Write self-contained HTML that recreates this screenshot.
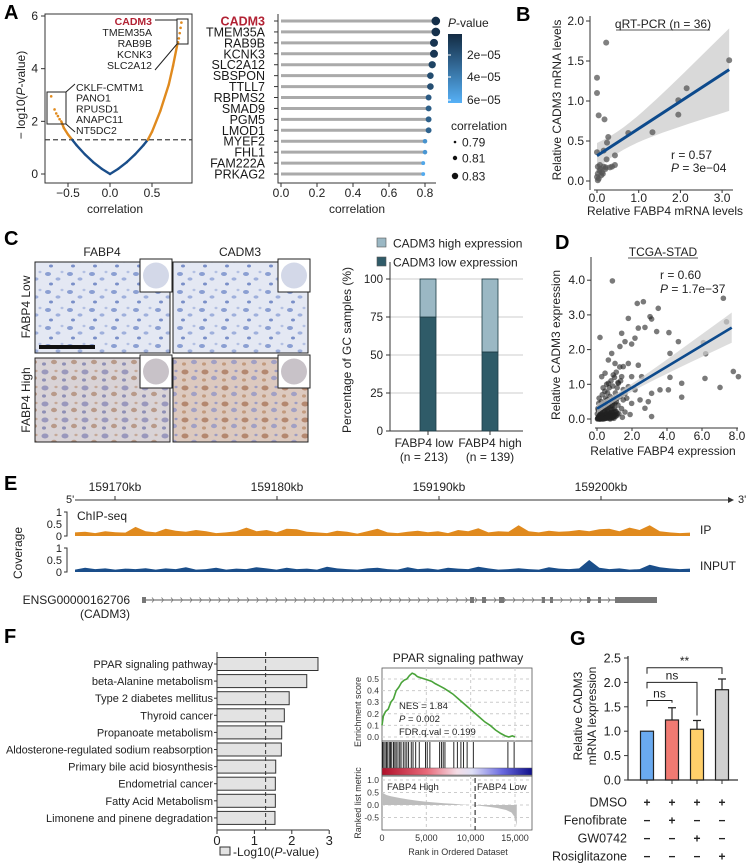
<!DOCTYPE html>
<html><head><meta charset="utf-8"><style>
html,body{margin:0;padding:0;background:#fff}
svg{display:block;font-family:"Liberation Sans",Arial,sans-serif}
</style></head><body>
<svg id="fig" width="750" height="863" viewBox="0 0 750 863" xmlns="http://www.w3.org/2000/svg">
<defs>
<linearGradient id="pgrad" x1="0" y1="0" x2="0" y2="1"><stop offset="0" stop-color="#132b43"/><stop offset="1" stop-color="#56b1f7"/></linearGradient>
<linearGradient id="rbgrad" x1="0" y1="0" x2="1" y2="0"><stop offset="0" stop-color="#b0102a"/><stop offset="0.3" stop-color="#e86a7a"/><stop offset="0.5" stop-color="#f4dde6"/><stop offset="0.6" stop-color="#dfe0f6"/><stop offset="0.8" stop-color="#6a6ae0"/><stop offset="1" stop-color="#10108a"/></linearGradient>
<pattern id="tisLow" width="22" height="18" patternUnits="userSpaceOnUse"><rect width="22" height="18" fill="#e4e8f3"/><ellipse cx="4" cy="4" rx="3" ry="2" fill="#8b9fd2"/><ellipse cx="14" cy="9" rx="2.5" ry="1.6" fill="#9fb0dc"/><ellipse cx="7" cy="14" rx="2" ry="1.5" fill="#7a8fc8"/><ellipse cx="18" cy="2" rx="1.5" ry="1.2" fill="#b3c0e2"/></pattern>
<pattern id="tisHigh" width="20" height="16" patternUnits="userSpaceOnUse"><rect width="20" height="16" fill="#d9d3d6"/><ellipse cx="5" cy="4" rx="3.5" ry="2.5" fill="#9a98bc"/><ellipse cx="14" cy="10" rx="3" ry="2.2" fill="#b89a8a"/><ellipse cx="4" cy="12" rx="2" ry="1.6" fill="#8e8fb5"/><ellipse cx="16" cy="3" rx="1.6" ry="1.2" fill="#c4a898"/></pattern>
<pattern id="tisHigh2" width="20" height="16" patternUnits="userSpaceOnUse"><rect width="20" height="16" fill="#dcc9bf"/><ellipse cx="5" cy="4" rx="3.5" ry="2.5" fill="#b48870"/><ellipse cx="14" cy="10" rx="3" ry="2.2" fill="#a2a0c4"/><ellipse cx="4" cy="12" rx="2" ry="1.6" fill="#c29a7e"/><ellipse cx="16" cy="3" rx="1.6" ry="1.2" fill="#9c9cc2"/></pattern>
</defs>

<text x="4" y="19" font-size="20" font-weight="bold">A</text>
<text x="516" y="21" font-size="20" font-weight="bold">B</text>
<text x="4" y="245" font-size="20" font-weight="bold">C</text>
<text x="555" y="249" font-size="20" font-weight="bold">D</text>
<text x="4" y="490" font-size="20" font-weight="bold">E</text>
<text x="4" y="643" font-size="20" font-weight="bold">F</text>
<text x="570" y="645" font-size="20" font-weight="bold">G</text>

<g id="gA"></g>
<g id="gB"></g>
<g id="gC"></g>
<g id="gD"></g>
<g id="gE"></g>
<g id="gF"></g>
<g id="gG"></g>
</svg>
<script>
// ---------- DATA ----------
const aCorr = [-0.58,-0.55,-0.5,-0.45,-0.4,-0.3,-0.2,-0.1,0,0.1,0.2,0.3,0.4,0.45,0.5,0.6,0.7,0.75,0.8];
const aLogP = [2.0,1.75,1.5,1.3,1.1,0.75,0.45,0.2,0,0.2,0.45,0.75,1.1,1.3,1.6,2.4,3.4,4.1,4.9];
const aDotCorr = [-0.7,-0.66,-0.64,-0.62,-0.6,0.81,0.82,0.83,0.84,0.85];
const aDotLogP = [2.95,2.45,2.3,2.2,2.08,5.0,5.15,5.35,5.55,5.75];
const lolGenes = ["CADM3","TMEM35A","RAB9B","KCNK3","SLC2A12","SBSPON","TTLL7","RBPMS2","SMAD9","PGM5","LMOD1","MYEF2","FHL1","FAM222A","PRKAG2"];
const lolCorr = [0.86,0.86,0.85,0.85,0.84,0.83,0.83,0.82,0.82,0.82,0.82,0.80,0.80,0.79,0.79];
const lolP = [0.2e-5,0.3e-5,0.5e-5,0.6e-5,1.2e-5,1.6e-5,1.7e-5,2.3e-5,2.5e-5,2.6e-5,2.7e-5,5.0e-5,5.2e-5,6.0e-5,6.2e-5];
const bX = [0,0,0.04,0.22,0.18,0,0.27,0.24,0.16,0.43,0.43,0.31,0.21,0.23,0.75,1.33,1.95,1.95,2.15,3.17,0.02,0.06,0.02,0,0.04,0.08,0.12,0.16,0.1,0.2,0.02,0.07,0.14,0.36];
const bY = [1.29,1.1,0.82,1.73,0.77,0.36,0.55,0.48,0.38,0.32,0.2,0.17,0.17,0.27,0.6,0.61,0.83,1.01,1.16,1.51,0.18,0.13,0.09,0.05,0.03,0.15,0.11,0.18,0.07,0.15,0.01,0.2,0.09,0.18];
const cGroups = ["FABP4 low","FABP4 high"];
const cN = ["(n = 213)","(n = 139)"];
const cLowPct = [75,52];
const cHighPct = [25,48];
const dX = [0.88,2.3,2.65,3.5,3.03,3.12,1.79,7.22,7.4,0.17,2.36,2.74,3.41,4.11,4.65,6.08,6.21,4.17,7.79,8.08,7.03,6.17,4.84,4.17,4.08,4.84,3.6,3.12,2.93,1.89,3.12,2.74,1.5,0.84,1.31,1.6,1.98,1.41,2.17,0.65,0.46,1.03,1.5,1.79,2.36,2.55,1.98,1.79,2.17,2.46,1.98,1.6,1.22,0.65,0.27,0.93,1.41,
0.05,0.1,0.15,0.2,0.25,0.3,0.35,0.4,0.45,0.5,0.55,0.6,0.65,0.7,0.75,0.8,0.85,0.9,0.95,1.0,1.05,1.1,1.15,1.2,1.3,1.35,1.4,1.5,1.6,1.7,0.05,0.1,0.12,0.2,0.25,0.3,0.35,0.4,0.45,0.5,0.55,0.6,0.7,0.75,0.8,0.9,1.0,1.1,1.2,1.3,0.02,0.08,0.18,0.28,0.38,0.48,0.58,0.68,0.78,0.88,0.98,1.08,1.25,1.45,0.15,0.3,0.45,0.6,0.75,0.9,1.15,1.4,0.22,0.42,0.62,0.82,1.02,0.12,0.32,0.52,0.07,0.17,0.27,0.37,0.57,0.67,0.87,0.97,
0.03,0.06,0.09,0.13,0.16,0.19,0.23,0.26,0.29,0.33,0.36,0.39,0.43,0.46,0.49,0.53,0.56,0.59,0.63,0.66,0.69,0.73,0.76,0.79,0.83,0.86,0.89,0.93,0.96,0.99,1.03,1.06,1.09,1.13,1.16,0.04,0.14,0.24,0.34,0.44,0.54,0.64,0.74,0.84,0.94];
const dY = [3.98,3.33,3.38,3.19,2.95,2.88,2.9,3.48,2.8,2.35,2.62,2.64,2.52,2.49,2.23,2.2,1.88,1.89,1.37,1.22,0.91,1.17,1.03,1.2,0.84,0.63,0.84,0.74,0.5,0.13,0.07,0.31,0.55,1.89,2.09,2.23,2.16,2.47,2.33,1.7,1.32,1.6,1.51,1.6,1.55,1.22,1.22,0.93,0.84,0.55,0.45,0.74,1.03,1.03,1.22,1.27,1.22,
0.02,0.05,0.1,0.0,0.08,0.15,0.05,0.2,0.1,0.3,0.15,0.25,0.4,0.1,0.35,0.5,0.2,0.45,0.6,0.3,0.75,0.5,0.9,0.4,0.65,1.1,0.3,0.85,0.2,0.6,0.3,0.45,0.6,0.35,0.5,0.7,0.9,0.45,0.8,0.6,1.0,0.75,0.9,0.65,1.1,0.95,1.2,1.35,1.05,1.5,0.15,0.25,0.2,0.3,0.35,0.45,0.55,0.2,0.15,0.05,0.1,0.2,0.15,0.05,0.0,0.0,0.02,0.05,0.0,0.3,0.6,0.7,0.12,0.25,0.35,0.28,0.45,0.08,0.18,0.08,0.05,0.12,0.03,0.1,0.22,0.12,0.4,0.02,
0.0,0.02,0.05,0.01,0.03,0.08,0.02,0.06,0.1,0.04,0.0,0.07,0.12,0.03,0.09,0.05,0.14,0.02,0.1,0.06,0.16,0.04,0.12,0.08,0.18,0.03,0.1,0.15,0.06,0.2,0.12,0.08,0.22,0.1,0.15,0.01,0.0,0.02,0.04,0.01,0.03,0.06,0.02,0.05,0.08];
const eTicks = ["159170kb","159180kb","159190kb","159200kb"];
const eIP = [0.15,0.18,0.12,0.2,0.16,0.14,0.38,0.2,0.15,0.3,0.22,0.18,0.25,0.2,0.12,0.15,0.2,0.35,0.2,0.25,0.15,0.3,0.28,0.18,0.15,0.12,0.22,0.18,0.1,0.2,0.3,0.15,0.12,0.18,0.22,0.16,0.2,0.12,0.25,0.2,0.32,0.15,0.2,0.18,0.45,0.2,0.15,0.22,0.18,0.2,0.25,0.2,0.28,0.3,0.2,0.35,0.25,0.45,0.2,0.15,0.12,0.14];
const eInput = [0.1,0.18,0.12,0.15,0.1,0.14,0.12,0.16,0.1,0.15,0.12,0.2,0.1,0.12,0.18,0.1,0.14,0.12,0.2,0.15,0.1,0.18,0.12,0.14,0.1,0.22,0.15,0.12,0.1,0.15,0.18,0.12,0.1,0.2,0.12,0.15,0.1,0.18,0.14,0.12,0.22,0.15,0.1,0.12,0.16,0.12,0.1,0.2,0.14,0.12,0.15,0.5,0.18,0.12,0.15,0.1,0.12,0.3,0.2,0.15,0.12,0.14];
const fTerms = ["PPAR signaling pathway","beta-Alanine metabolism","Type 2 diabetes mellitus","Thyroid cancer","Propanoate metabolism","Aldosterone-regulated sodium reabsorption","Primary bile acid biosynthesis","Endometrial cancer","Fatty Acid Metabolism","Limonene and pinene degradation"];
const fVals = [2.7,2.4,1.93,1.8,1.73,1.72,1.57,1.56,1.56,1.55];
const esRank = [0,150,400,700,1000,1300,1600,1900,2200,2500,2800,3100,3400,3700,4000,4400,4800,5200,5600,6000,6500,7000,7400,8000,8600,9200,9800,10400,11000,11600,12200,12800,13400,13900,14300,14700,15000];
const esVal = [0.1,0.18,0.22,0.24,0.3,0.33,0.4,0.43,0.47,0.49,0.5,0.53,0.55,0.54,0.52,0.51,0.5,0.49,0.48,0.46,0.44,0.42,0.4,0.37,0.33,0.29,0.25,0.21,0.17,0.13,0.1,0.06,0.03,0.01,0.0,0.01,0.0];
const hitRanks = [60,200,350,500,650,820,950,1100,1300,1450,1600,1800,2000,2150,2400,2600,2800,3000,3300,3500,3800,4200,4900,5100,5400,6500,6700,6900,7100,8100,8500,8900,9200,9600,10300,14200,14900];
const metRank = [0,500,1000,2000,3000,4000,5000,6000,7000,8000,9000,10000,11000,12000,13000,14000,14600,15000,15200];
const metVal = [0.5,0.4,0.35,0.28,0.22,0.17,0.13,0.1,0.07,0.05,0.02,0,-0.03,-0.07,-0.12,-0.2,-0.3,-0.5,-0.85];
const gVals = [1.0,1.23,1.04,1.85];
const gErr = [0,0.25,0.18,0.22];
const gRows = ["DMSO","Fenofibrate","GW0742","Rosiglitazone"];
const gSigns = [["+","+","+","+"],["−","+","−","−"],["−","−","+","−"],["−","−","−","+"]];

// ---------- HELPERS ----------
const NS="http://www.w3.org/2000/svg";
function mk(tag,attrs,parent){const e=document.createElementNS(NS,tag);for(const k in attrs)e.setAttribute(k,attrs[k]);parent.appendChild(e);return e;}
function tx(parent,x,y,s,size,anchor,extra){const e=mk('text',Object.assign({x:x,y:y,'font-size':size,'text-anchor':anchor||'start'},extra||{}),parent);e.textContent=s;return e;}
function lin(d0,d1,r0,r1){return v=>r0+(v-d0)*(r1-r0)/(d1-d0);}
function fit(xs,ys){const n=xs.length;let mx=0,my=0;for(let i=0;i<n;i++){mx+=xs[i];my+=ys[i];}mx/=n;my/=n;let sxx=0,sxy=0;for(let i=0;i<n;i++){sxx+=(xs[i]-mx)**2;sxy+=(xs[i]-mx)*(ys[i]-my);}const b=sxy/sxx,a=my-b*mx;let ss=0;for(let i=0;i<n;i++)ss+=(ys[i]-a-b*xs[i])**2;const s=Math.sqrt(ss/(n-2));return {a,b,mx,sxx,s,n};}
function hexMix(c1,c2,t){const p=c=>[1,3,5].map(i=>parseInt(c.substr(i,2),16));const a=p(c1),b=p(c2);return 'rgb('+a.map((v,i)=>Math.round(v+(b[i]-v)*t)).join(',')+')';}

// ---------- PANEL A ----------
(function(){
const g=document.getElementById('gA');
const X=lin(0,0.5,110,152), Y=lin(0,6,174,16);
const box=mk('rect',{x:45,y:14,width:147,height:169,fill:'none',stroke:'#333','stroke-width':1},g);


[[-0.5,'−0.5'],[0,'0.0'],[0.5,'0.5']].forEach(t=>{
  const tk=mk('line',{x1:X(t[0]),x2:X(t[0]),y1:183,y2:187,stroke:'#333'},g);
  
  
  const l=tx(g,X(t[0]),197,t[1],12,'middle',{fill:'#222'});
  
  
});
[0,2,4,6].forEach(v=>{
  const tk=mk('line',{x1:41,x2:45,y1:Y(v),y2:Y(v),stroke:'#333'},g);
  
  
  const l=tx(g,38,Y(v)+4,String(v),12,'end',{fill:'#222'});
  
  
});
const yl=tx(g,0,0,'',12,'middle',{transform:'translate(25,95) rotate(-90)',fill:'#222'});
yl.innerHTML='− log10(<tspan font-style="italic">P</tspan>-value)';


const xl=tx(g,115,213,'correlation',12,'middle',{fill:'#222'});


const th=mk('line',{x1:45,x2:192,y1:Y(1.3),y2:Y(1.3),stroke:'#444','stroke-dasharray':'5,3','stroke-width':1.2},g);


for(let i=0;i<aCorr.length-1;i++){
  const sig=Math.abs(aCorr[i])>=0.45&&Math.abs(aCorr[i+1])>=0.45;
  const s=mk('line',{x1:X(aCorr[i]),y1:Y(aLogP[i]),x2:X(aCorr[i+1]),y2:Y(aLogP[i+1]),stroke:sig?'#e08a1e':'#1a4e8a','stroke-width':2.4,'stroke-linecap':'round'},g);
  
  
}
aDotCorr.forEach((c,i)=>{
  const d=mk('circle',{cx:X(c),cy:Y(aDotLogP[i]),r:1.3,fill:'#e08a1e'},g);
  
  
});
const b1=mk('rect',{x:177,y:19,width:11,height:25,fill:'none',stroke:'#222','stroke-width':1},g);


const l1=mk('path',{d:'M155,20 L177,20 M177,44 L155,70',stroke:'#222',fill:'none'},g);


const b2=mk('rect',{x:47,y:92,width:19,height:32,fill:'none',stroke:'#222'},g);


const l2=mk('path',{d:'M66,92 L75,84 M66,124 L75,132',stroke:'#222',fill:'none'},g);


['CADM3','TMEM35A','RAB9B','KCNK3','SLC2A12'].forEach((s,i)=>{
  const t=tx(g,152,25+i*11,s,10.5,'end',{fill:i?'#222':'#b22234','font-weight':i?'normal':'bold'});
  
  
});
['CKLF-CMTM1','PANO1','RPUSD1','ANAPC11','NT5DC2'].forEach((s,i)=>{
  const t=tx(g,76,91+i*10.7,s,10.5,'start',{fill:'#222'});
  
  
});
const LX=lin(0,0.8,281,425);
const rowY=i=>21+i*10.93;
const ax=mk('path',{d:'M278,14 L278,183 L436,183',stroke:'#333',fill:'none'},g);


[0,0.2,0.4,0.6,0.8].forEach(v=>{
  const tk=mk('line',{x1:LX(v),x2:LX(v),y1:183,y2:187,stroke:'#333'},g);
  
  
  const l=tx(g,LX(v),197,v.toFixed(1),12,'middle',{fill:'#222'});
  
  
});
const xl2=tx(g,357,213,'correlation',12,'middle',{fill:'#222'});


lolGenes.forEach((name,i)=>{
  const y=rowY(i);
  const lab=tx(g,265,y+4.5,name,12.5,'end',{fill:i?'#1a1a1a':'#b22234','font-weight':i?'normal':'bold'});
  
  
  const tk=mk('line',{x1:274,x2:278,y1:y,y2:y,stroke:'#333'},g);
  
  
  const st=mk('line',{x1:LX(0),x2:LX(lolCorr[i]),y1:y,y2:y,stroke:'#aaaaaa','stroke-width':3},g);
  
  
  const t=Math.min(1,lolP[i]/6.5e-5);
  const d=mk('circle',{cx:LX(lolCorr[i]),cy:y,r:1.6+(lolCorr[i]-0.78)*34,fill:hexMix('#132b43','#56b1f7',t)},g);
  
  
});
const pt=tx(g,448,27,'',12,'start',{fill:'#222'});
pt.innerHTML='<tspan font-style="italic">P</tspan>-value';


const gb=mk('rect',{x:448,y:34,width:14,height:69,fill:'url(#pgrad)'},g);


[['2e−05',55],['4e−05',77],['6e−05',100]].forEach(a=>{
  const w=mk('line',{x1:448,x2:451,y1:a[1],y2:a[1],stroke:'#fff'},g);
  
  
  const l=tx(g,467,a[1]+4,a[0],12,'start',{fill:'#222'});
  
  
});
const ct=tx(g,451,130,'correlation',12,'start',{fill:'#222'});


[['0.79',142,1.3],['0.81',158,2.2],['0.83',176,3.2]].forEach(a=>{
  const c=mk('circle',{cx:455,cy:a[1],r:a[2],fill:'#111'},g);
  
  
  const l=tx(g,462,a[1]+4.5,a[0],12,'start',{fill:'#222'});
  
  
});
})();

// ---------- PANEL B ----------
(function(){
const g=document.getElementById('gB');
const X=lin(0,1,597,638.7), Y=lin(0,1,181,101);
const ax=mk('path',{d:'M590,16 L590,190 M594,190 L733,190',stroke:'#333',fill:'none'},g);


[0,0.5,1,1.5,2].forEach(v=>{
  const tk=mk('line',{x1:586,x2:590,y1:Y(v),y2:Y(v),stroke:'#333'},g);
  
  
  const l=tx(g,584,Y(v)+4,v.toFixed(1),12,'end',{fill:'#222'});
  
  
});
[0,1,2,3].forEach(v=>{
  const tk=mk('line',{x1:X(v),x2:X(v),y1:190,y2:193,stroke:'#333'},g);
  
  
  const l=tx(g,X(v),202,v.toFixed(1),12,'middle',{fill:'#222'});
  
  
});
const f=fit(bX,bY);
const xs=[];for(let i=0;i<=20;i++)xs.push(i*3.17/20);
const up=[],lo=[];
xs.forEach(x=>{const se=f.s*Math.sqrt(1/f.n+(x-f.mx)**2/f.sxx)*2.03;up.push(X(x)+','+Y(f.a+f.b*x+se));lo.push(X(x)+','+Y(f.a+f.b*x-se));});
const band=mk('polygon',{points:up.concat(lo.reverse()).join(' '),fill:'#d9d9d9'},g);


bX.forEach((x,i)=>{
  const c=mk('circle',{cx:X(x),cy:Y(bY[i]),r:3,fill:'#555','fill-opacity':0.75},g);
  
  
});
const rl=mk('line',{x1:X(0),y1:Y(f.a),x2:X(3.17),y2:Y(f.a+f.b*3.17),stroke:'#0d4a8c','stroke-width':3},g);


const t=tx(g,663,28,'qRT-PCR (n = 36)',12,'middle',{fill:'#222'});


const ul=mk('line',{x1:616,x2:710,y1:30,y2:30,stroke:'#222','stroke-width':0.8},g);


const r1=tx(g,671,159,'r = 0.57',12,'start',{fill:'#222'});


const r2=tx(g,671,172,'',12,'start',{fill:'#222'});
r2.innerHTML='<tspan font-style="italic">P</tspan> = 3e−04';


const yl=tx(g,0,0,'Relative CADM3 mRNA levels',12,'middle',{transform:'translate(561,100) rotate(-90)',fill:'#222'});


const xl=tx(g,665,215,'Relative FABP4 mRNA levels',12,'middle',{fill:'#222'});


})();

// ---------- PANEL C ----------
(function(){
const g=document.getElementById('gC');
const imgs=[[35,262,'tisLow','fabp4-low-fabp4-stain'],[173,262,'tisLow','fabp4-low-cadm3-stain'],[35,358,'tisHigh','fabp4-high-fabp4-stain'],[173,358,'tisHigh2','fabp4-high-cadm3-stain']];
imgs.forEach(a=>{
  const r=mk('rect',{x:a[0],y:a[1],width:135,height:a[1]>300?84:91,fill:'url(#'+a[2]+')',stroke:'#222','stroke-width':1},g);
  
  
  const ib=mk('rect',{x:a[0]+105,y:a[1]-3,width:32,height:33,fill:'#fff',stroke:'#222'},g);
  
  
  const ic=mk('circle',{cx:a[0]+121,cy:a[1]+13.5,r:13,fill:a[1]>300?'#c8c2c8':'#d3d8e8'},g);
  
  
});
const sb=mk('rect',{x:39,y:345,width:56,height:4,fill:'#111'},g);


[['FABP4',102],['CADM3',240]].forEach(a=>{
  const t=tx(g,a[1],256,a[0],12,'middle',{fill:'#222'});
  
  
});
[['FABP4 Low',307],['FABP4 High',400]].forEach(a=>{
  const t=tx(g,0,0,a[0],12,'middle',{transform:'translate(30,'+a[1]+') rotate(-90)',fill:'#222'});
  
  
});
const Y=lin(0,100,431,279);
const cx=[428,490];
[0,25,50,75,100].forEach(v=>{
  if(v>0){const gl=mk('line',{x1:390,x2:523,y1:Y(v),y2:Y(v),stroke:'#d6d6d6','stroke-width':1.2},g);
  
  }
  const tk=mk('line',{x1:386,x2:390,y1:Y(v),y2:Y(v),stroke:'#333'},g);
  
  
  const l=tx(g,383,Y(v)+4,String(v),11.5,'end',{fill:'#222'});
  
  
});
const ax=mk('path',{d:'M390,262 L390,431 L523,431',stroke:'#333',fill:'none'},g);


cGroups.forEach((grp,i)=>{
  const lo=mk('rect',{x:cx[i]-8,y:Y(cLowPct[i]),width:16,height:Y(0)-Y(cLowPct[i]),fill:'#2f5b68',stroke:'#1d3a44','stroke-width':0.8},g);
  
  
  const hi=mk('rect',{x:cx[i]-8,y:Y(cLowPct[i]+cHighPct[i]),width:16,height:Y(cLowPct[i])-Y(cLowPct[i]+cHighPct[i]),fill:'#9bb8c4',stroke:'#1d3a44','stroke-width':0.8},g);
  
  
  const tk=mk('line',{x1:cx[i],x2:cx[i],y1:431,y2:435,stroke:'#333'},g);
  
  
  const l=tx(g,cx[i]-4+i*4,447,grp,12,'middle',{fill:'#222'});
  
  
  const n=tx(g,cx[i]-4+i*4,461,cN[i],12,'middle',{fill:'#222'});
  
  
});
const yl=tx(g,0,0,'Percentage of GC samples (%)',12,'middle',{transform:'translate(351,350) rotate(-90)',fill:'#222'});


[['CADM3 high expression','#9bb8c4',243],['CADM3 low expression','#2f5b68',262]].forEach(a=>{
  const s=mk('rect',{x:377,y:a[2]-5,width:9,height:9,fill:a[1],stroke:'#555','stroke-width':0.6},g);
  
  
  const l=tx(g,393,a[2]+4.5,a[0],12,'start',{fill:'#222'});
  
  
});
})();

// ---------- PANEL D ----------
(function(){
const g=document.getElementById('gD');
const X=lin(0,2,597,632), Y=lin(0,1,419,384.3);
const ax=mk('path',{d:'M591,257 L591,424 M595,428 L738,428',stroke:'#333',fill:'none'},g);


[0,1,2,3,4].forEach(v=>{
  const tk=mk('line',{x1:587,x2:591,y1:Y(v),y2:Y(v),stroke:'#333'},g);
  
  
  const l=tx(g,585,Y(v)+4,v.toFixed(1),12,'end',{fill:'#222'});
  
  
});
[0,2,4,6,8].forEach(v=>{
  const tk=mk('line',{x1:X(v),x2:X(v),y1:428,y2:431,stroke:'#333'},g);
  
  
  const l=tx(g,X(v),440,v.toFixed(1),12,'middle',{fill:'#222'});
  
  
});
const f=fit(dX,dY);
dX.forEach((x,i)=>{
  const c=mk('circle',{cx:X(x),cy:Y(dY[i]),r:2.8,fill:'#222','fill-opacity':0.6},g);
  
  
});
const xs=[];for(let i=0;i<=20;i++)xs.push(i*7.7/20);
const up=[],lo=[];
xs.forEach(x=>{const se=f.s*Math.sqrt(1/f.n+(x-f.mx)**2/f.sxx)*1.97;up.push(X(x)+','+Y(f.a+f.b*x+se));lo.push(X(x)+','+Y(f.a+f.b*x-se));});
const band=mk('polygon',{points:up.concat(lo.reverse()).join(' '),fill:'#cfcfcf','fill-opacity':0.7},g);


const rl=mk('line',{x1:X(0),y1:Y(f.a),x2:X(7.7),y2:Y(f.a+f.b*7.7),stroke:'#0d4a8c','stroke-width':2.6},g);


const t=tx(g,663,256,'TCGA-STAD',12,'middle',{fill:'#222'});


const ul=mk('line',{x1:628,x2:698,y1:258,y2:258,stroke:'#222','stroke-width':0.8},g);


const r1=tx(g,660,279,'r = 0.60',12,'start',{fill:'#222'});


const r2=tx(g,660,293,'',12,'start',{fill:'#222'});
r2.innerHTML='<tspan font-style="italic">P</tspan> = 1.7e−37';


const yl=tx(g,0,0,'Relative CADM3 expression',12,'middle',{transform:'translate(560,345) rotate(-90)',fill:'#222'});


const xl=tx(g,663,455,'Relative FABP4 expression',12,'middle',{fill:'#222'});


})();

// ---------- PANEL E ----------
(function(){
const g=document.getElementById('gE');
const KB=lin(0,10,115,277);
const axl=mk('line',{x1:75,x2:728,y1:500,y2:500,stroke:'#333'},g);


const ar=mk('path',{d:'M728,497 L734,500 L728,503',fill:'#333'},g);


eTicks.forEach((s,i)=>{
  const tk=mk('line',{x1:KB(i*10),x2:KB(i*10),y1:496,y2:500,stroke:'#333'},g);
  
  
  const l=tx(g,KB(i*10),491,s,12,'middle',{fill:'#222'});
  
  
});
const p5=tx(g,66,503,"5'",11,'start',{fill:'#222'});


const p3=tx(g,738,503,"3'",11,'start',{fill:'#222'});


function track(vals,base,color,name,label){
  const step=(690-75)/(vals.length-1);
  let d='M75,'+base;
  vals.forEach((v,i)=>{d+=' L'+(75+i*step).toFixed(1)+','+(base-v*24).toFixed(1);});
  d+=' L690,'+base+' Z';
  const p=mk('path',{d:d,fill:color},g);
  
  
  const sa=mk('path',{d:'M64,'+(base-24)+' L67,'+(base-24)+' L67,'+base+' L64,'+base,stroke:'#333',fill:'none'},g);
  
  
  [['1',24],['0.5',12],['0',0]].forEach(a=>{
    const l=tx(g,62,base-a[1]+4,a[0],11,'end',{fill:'#222'});
    
    
  });
  const tl=tx(g,700,base-2,label,12,'start',{fill:'#222'});
  
  
}
track(eIP,536,'#e08a1e','ip-coverage-track','IP');
track(eInput,572,'#1a4e8a','input-coverage-track','INPUT');
const cs=tx(g,77,520,'ChIP-seq',12,'start',{fill:'#222'});


const cv=tx(g,0,0,'Coverage',12,'middle',{transform:'translate(22,553) rotate(-90)',fill:'#222'});


const gl=mk('line',{x1:142,x2:657,y1:600,y2:600,stroke:'#777','stroke-width':1.2},g);


let chev='';for(let x=152;x<612;x+=9.5)chev+='M'+x+',597.5 L'+(x+2)+',600 L'+x+',602.5 ';
const ch=mk('path',{d:chev,stroke:'#777',fill:'none','stroke-width':0.8},g);


[[142,4],[470,4],[482,4],[499,5],[542,3],[550,3],[587,3],[598,3]].forEach(a=>{
  const r=mk('rect',{x:a[0],y:597,width:a[1],height:6,fill:'#777'},g);
  
  
});
const ut=mk('rect',{x:615,y:597,width:42,height:6,fill:'#777'},g);


const gn=tx(g,130,604,'ENSG00000162706',12,'end',{fill:'#222'});


const gs=tx(g,130,618,'(CADM3)',12,'end',{fill:'#222'});


})();

// ---------- PANEL F ----------
(function(){
const g=document.getElementById('gF');
const X=lin(0,1,217,254.4);
const rowY=i=>664+i*17.1;
fTerms.forEach((term,i)=>{
  const y=rowY(i);
  const b=mk('rect',{x:X(0),y:y-6.5,width:X(fVals[i])-X(0),height:13,fill:'#e3e3e3',stroke:'#333','stroke-width':1},g);
  
  
  const tk=mk('line',{x1:214,x2:217,y1:y,y2:y,stroke:'#333'},g);
  
  
  const l=tx(g,213,y+4,term,11,'end',{fill:'#222'});
  if(term.length>35)l.setAttribute('textLength','207');
  
  
});
const ax=mk('path',{d:'M217,652 L217,830 L329,830',stroke:'#333',fill:'none'},g);


const dl=mk('line',{x1:X(1.3),x2:X(1.3),y1:652,y2:830,stroke:'#333','stroke-dasharray':'4,3'},g);


[0,1,2,3].forEach(v=>{
  const tk=mk('line',{x1:X(v),x2:X(v),y1:830,y2:834,stroke:'#333'},g);
  
  
  const l=tx(g,X(v),845,String(v),13,'middle',{fill:'#222'});
  
  
});
const ls=mk('rect',{x:220,y:847,width:10,height:8,fill:'#e3e3e3',stroke:'#333'},g);


const lt=tx(g,233,856,'',12,'start',{fill:'#222'});
lt.innerHTML='-Log10(<tspan font-style="italic">P</tspan>-value)';


const RX=lin(0,15000,382,515), EY=lin(0,0.5,737,679), MY=lin(0,1,805,780);
const title=tx(g,458,662,'PPAR signaling pathway',12,'middle',{fill:'#222'});


[[668,741],[741,776],[776,830]].forEach(a=>{
  const r=mk('rect',{x:382,y:a[0],width:150,height:a[1]-a[0],fill:'none',stroke:'#555','stroke-width':0.8},g);
  
  
});
[5000,10000,15000].forEach(r=>{
  const v=mk('line',{x1:RX(r),x2:RX(r),y1:668,y2:741,stroke:'#ccc','stroke-dasharray':'3,3'},g);
  
  
  const v2=mk('line',{x1:RX(r),x2:RX(r),y1:776,y2:830,stroke:'#ccc','stroke-dasharray':'3,3'},g);
  
  
});
[0,0.1,0.2,0.3,0.4,0.5].forEach(v=>{
  const h=mk('line',{x1:382,x2:532,y1:EY(v),y2:EY(v),stroke:'#ccc','stroke-dasharray':'3,3'},g);
  
  
  const l=tx(g,379,EY(v)+3,v.toFixed(1),8.5,'end',{fill:'#333'});
  
  
});
[1,0.5,0,-0.5].forEach(v=>{
  const h=mk('line',{x1:382,x2:532,y1:MY(v),y2:MY(v),stroke:'#ccc','stroke-dasharray':'3,3'},g);
  
  
  const l=tx(g,379,MY(v)+3,v.toFixed(1),8.5,'end',{fill:'#333'});
  
  
});
const es=mk('polyline',{points:esRank.map((r,i)=>RX(r)+','+EY(esVal[i])).join(' '),fill:'none',stroke:'#4aa33a','stroke-width':1.6},g);


hitRanks.forEach(r=>{
  const h=mk('line',{x1:RX(r),x2:RX(r),y1:742,y2:768,stroke:'#111','stroke-width':0.9},g);
  
  
});
const cb=mk('rect',{x:382,y:768,width:150,height:7,fill:'url(#rbgrad)',stroke:'#555','stroke-width':0.5},g);


let md='M'+RX(0)+','+MY(0);
metRank.forEach((r,i)=>{md+=' L'+RX(r)+','+MY(metVal[i]);});
md+=' L'+RX(metRank[metRank.length-1])+','+MY(0)+' Z';
const mp=mk('path',{d:md,fill:'#bdbdbd'},g);


const zl=mk('line',{x1:RX(10500),x2:RX(10500),y1:778,y2:830,stroke:'#111','stroke-dasharray':'5,3'},g);


const fh=tx(g,387,790,'FABP4 High',9.5,'start',{fill:'#222'});


const fl=tx(g,477,790,'FABP4 Low',9.5,'start',{fill:'#222'});


[['NES = 1.84',709,false],['P = 0.002',722,true],['FDR.q.val = 0.199',735,false]].forEach(a=>{
  const t=tx(g,399,a[1],'',9.5,'start',{fill:'#222'});
  if(a[2])t.innerHTML='<tspan font-style="italic">P</tspan> = 0.002'; else t.textContent=a[0];
  
  
});
[[0,'0'],[5000,'5,000'],[10000,'10,000'],[15000,'15,000']].forEach(a=>{
  const l=tx(g,RX(a[0]),841,a[1],9,'middle',{fill:'#333'});
  
  
});
const rx=tx(g,458,855,'Rank in Ordered Dataset',9,'middle',{fill:'#333'});


const ey=tx(g,0,0,'Enrichment score',9,'middle',{transform:'translate(361,712) rotate(-90)',fill:'#333'});


const my=tx(g,0,0,'Ranked list metric',9,'middle',{transform:'translate(361,803) rotate(-90)',fill:'#333'});


})();

// ---------- PANEL G ----------
(function(){
const g=document.getElementById('gG');
const Y=lin(0,1,780,731.2);
const cx=[647,672,697,722];
const cols=['#6aaaf0','#f07a72','#ffcf6a','#d0d0d0'];
[0,0.5,1,1.5,2,2.5].forEach(v=>{
  const tk=mk('line',{x1:624,x2:628,y1:Y(v),y2:Y(v),stroke:'#333'},g);
  
  
  const l=tx(g,621,Y(v)+4.5,v.toFixed(1),12.5,'end',{fill:'#222'});
  
  
});
const ax=mk('path',{d:'M628,656 L628,780 L738,780',stroke:'#333',fill:'none','stroke-width':1.2},g);


gVals.forEach((v,i)=>{
  if(gErr[i]>0){
    const e=mk('path',{d:'M'+cx[i]+','+Y(v)+' L'+cx[i]+','+Y(v+gErr[i])+' M'+(cx[i]-4)+','+Y(v+gErr[i])+' L'+(cx[i]+4)+','+Y(v+gErr[i]),stroke:'#222',fill:'none','stroke-width':1.2},g);
    
    
  }
  const b=mk('rect',{x:cx[i]-6.5,y:Y(v),width:13,height:Y(0)-Y(v),fill:cols[i],stroke:'#222','stroke-width':1.2},g);
  
  
  const tk=mk('line',{x1:cx[i],x2:cx[i],y1:780,y2:784,stroke:'#333'},g);
  
  
});
function bracket(i,j,yv,label,name){
  const y=Y(yv);
  const yr=Y(gVals[j]+gErr[j])-5;
  const p=mk('path',{d:'M'+cx[i]+','+(y+6)+' L'+cx[i]+','+y+' L'+cx[j]+','+y+' L'+cx[j]+','+yr,stroke:'#222',fill:'none'},g);
  
  
  const t=tx(g,(cx[i]+cx[j])/2,y-3,label,12,'middle',{fill:'#222'});
  
  
}
bracket(0,1,1.63,'ns','significance-bracket-fenofibrate');
bracket(0,2,2.0,'ns','significance-bracket-gw0742');
bracket(0,3,2.3,'**','significance-bracket-rosiglitazone');
const yl=tx(g,0,0,'Relative CADM3',12,'middle',{transform:'translate(582,716) rotate(-90)',fill:'#222'});


const yl2=tx(g,0,0,'mRNA lexpression',12,'middle',{transform:'translate(596,716) rotate(-90)',fill:'#222'});


const ry=[802,820,838,856];
gRows.forEach((r,k)=>{
  const l=tx(g,627,ry[k]+4.5,r,12.5,'end',{fill:'#222'});
  
  
  gSigns[k].forEach((s,i)=>{
    const t=tx(g,cx[i],ry[k]+4.5,s,12,'middle',{fill:'#222','font-weight':'bold'});
    
    
  });
});
})();
</script>
</body></html>
